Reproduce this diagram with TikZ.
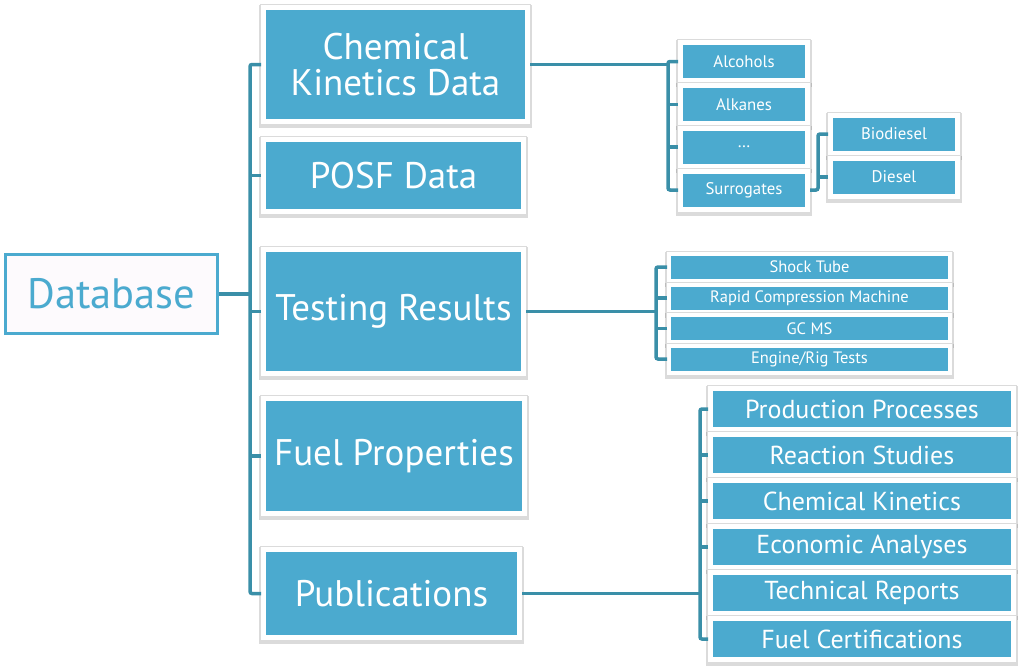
\documentclass[tikz,border=0pt]{standalone}
\usepackage{fontspec}
\setmainfont{PT Sans}
\definecolor{boxblue}{RGB}{75,170,207}
\definecolor{linkteal}{RGB}{58,143,168}
\definecolor{rootfill}{RGB}{253,250,253}

\begin{document}
\begin{tikzpicture}[x = 1pt, y = -1pt,
                        link/.style = {draw = linkteal, line width = 3.5pt, rounded corners = 2pt},
                        root/.style = {draw = boxblue, fill = rootfill, line width = 3pt, text = boxblue,
                                       minimum width = 212pt, minimum height = 79pt,
                                       font = \fontsize{42.5}{46}\selectfont},
                        card/.style = {draw = white, fill = boxblue, line width = 5pt, text = white,
                                       preaction = {draw = black, draw opacity = 0.14, line width = 9pt,
                                                    transform canvas = {yshift = -2pt}},
                                       preaction = {draw = black!14, line width = 6.4pt}},
                        thincard/.style = {draw = white, fill = boxblue, line width = 4pt, text = white,
                                       preaction = {draw = black, draw opacity = 0.14, line width = 8pt,
                                                    transform canvas = {yshift = -2pt}},
                                       preaction = {draw = black!14, line width = 5.4pt}},
                        topic/.style = {card, font = \fontsize{37}{36}\selectfont, align = center},
                        leaf/.style = {card, minimum width = 127pt, minimum height = 38pt,
                                       font = \fontsize{16.8}{18}\selectfont},
                        test/.style = {thincard, minimum width = 281pt, minimum height = 27pt,
                                       inner sep = 0pt, font = \fontsize{16.5}{17}\selectfont},
                        paper/.style = {card, minimum width = 303pt, minimum height = 41pt,
                                        inner sep = 0pt, font = \fontsize{26}{28}\selectfont}]
    \useasboundingbox (0, 0) rectangle (1018, 667);

    \node [root] (db) at (111.5, 294){Database};

    \node [topic, minimum width = 264pt, minimum height = 114pt] (chem) at (395.5, 64.5){Chemical\\Kinetics Data};
    \node [topic, minimum width = 260pt, minimum height = 72pt] (posf) at (393.5, 175.5){POSF Data};
    \node [topic, minimum width = 260pt, minimum height = 124pt] (testing) at (393.5, 311.5){Testing Results};
    \node [topic, minimum width = 261pt, minimum height = 115pt] (fuel) at (394, 456){Fuel Properties};
    \node [topic, minimum width = 256pt, minimum height = 88pt] (pubs) at (391.5, 593.5){Publications};

    \node [leaf] (alcohols) at (744, 61.5){Alcohols};
    \node [leaf] (alkanes) at (744, 104.5){Alkanes};
    \node [leaf] (more) at (744, 147){\dots};
    \node [leaf] (surrogates) at (744, 190){Surrogates};
    \node [leaf] (biodiesel) at (894, 134){Biodiesel};
    \node [leaf] (diesel) at (894, 177){Diesel};

    \node [test] (shock) at (809.5, 267){Shock Tube};
    \node [test] (rapid) at (809.5, 298){Rapid Compression Machine};
    \node [test] (gcms) at (809.5, 328.5){GC MS};
    \node [test] (engine) at (809.5, 359){Engine/Rig Tests};

    \node [paper] (production) at (862, 409){Production Processes};
    \node [paper] (reaction) at (862, 455){Reaction Studies};
    \node [paper] (kinetics) at (862, 501){Chemical Kinetics};
    \node [paper] (economic) at (862, 547){Economic Analyses};
    \node [paper] (technical) at (862, 593){Technical Reports};
    \node [paper] (certs) at (862, 639){Fuel Certifications};

    \coordinate (hub) at (250, 294);
    \coordinate (chemfork) at (668, 64.5);
    \coordinate (surfork) at (818, 190);
    \coordinate (testfork) at (656, 311.5);
    \coordinate (pubfork) at (700, 593.5);

    \draw [link] (db) -- (hub);
    \draw [link] (chem.west) -| (hub) |- (pubs.west);
    \draw [link] (posf.west) -- (posf.west -| hub);
    \draw [link] (testing.west) -- (testing.west -| hub);
    \draw [link] (fuel.west) -- (fuel.west -| hub);

    \draw [link] (chem.east) -- (chemfork);
    \draw [link] (alcohols.west) -| (chemfork) |- (surrogates.west);
    \draw [link] (alkanes.west) -- (alkanes.west -| chemfork);
    \draw [link] (more.west) -- (more.west -| chemfork);

    \draw [link] (surrogates.east) -- (surfork) |- (biodiesel.west);
    \draw [link] (diesel.west) -- (diesel.west -| surfork);

    \draw [link] (testing.east) -- (testfork);
    \draw [link] (shock.west) -| (testfork) |- (engine.west);
    \draw [link] (rapid.west) -- (rapid.west -| testfork);
    \draw [link] (gcms.west) -- (gcms.west -| testfork);

    \draw [link] (pubs.east) -- (pubfork);
    \draw [link] (production.west) -| (pubfork) |- (certs.west);
    \draw [link] (reaction.west) -- (reaction.west -| pubfork);
    \draw [link] (kinetics.west) -- (kinetics.west -| pubfork);
    \draw [link] (economic.west) -- (economic.west -| pubfork);
  \end{tikzpicture}
\end{document}
